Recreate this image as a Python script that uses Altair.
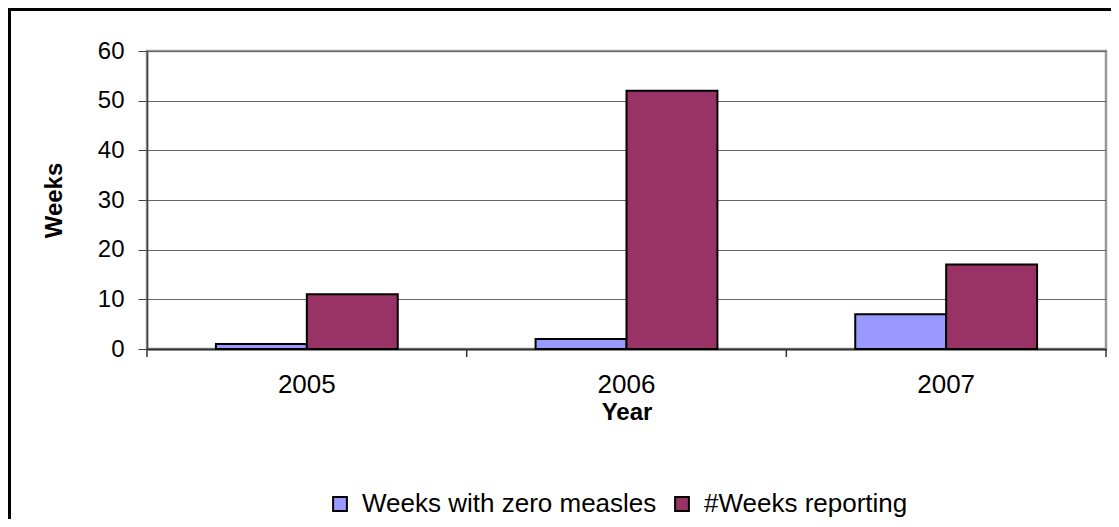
import altair as alt
import pandas as pd

years = ["2005", "2006", "2007"]
series_names = ["Weeks with zero measles", "#Weeks reporting"]
zero_measles = [1, 2, 7]
weeks_reporting = [11, 52, 17]
colors = ["#9999FF", "#993366"]
y_ticks = [0, 10, 20, 30, 40, 50, 60]

rows = []
for i, yr in enumerate(years):
    rows.append({"year": yr, "series": series_names[0], "value": zero_measles[i]})
    rows.append({"year": yr, "series": series_names[1], "value": weeks_reporting[i]})
df = pd.DataFrame(rows)

FONT = "Liberation Sans"
W, H = 959, 298

bars = alt.Chart(df).mark_bar(stroke="black", strokeWidth=2).encode(
    x=alt.X(
        "year:N",
        sort=years,
        scale=alt.Scale(paddingInner=0, paddingOuter=0),
        axis=alt.Axis(
            title="Year",
            labelAngle=0,
            labelFontSize=26,
            labelFont=FONT,
            labelColor="black",
            labelPadding=22,
            ticks=False,
            domainColor="#333",
            domainWidth=2,
            titleFont=FONT,
            titleFontSize=24,
            titleFontWeight="bold",
            titleColor="black",
            titlePadding=3,
            grid=False,
        ),
    ),
    xOffset=alt.XOffset(
        "series:N",
        sort=series_names,
        scale=alt.Scale(paddingInner=0, paddingOuter=0.758),
    ),
    y=alt.Y(
        "value:Q",
        scale=alt.Scale(domain=[0, 60], nice=False),
        axis=alt.Axis(
            title="Weeks",
            values=y_ticks,
            grid=True,
            gridColor="#666",
            gridWidth=1,
            labelFontSize=24,
            labelFont=FONT,
            labelColor="black",
            labelPadding=14,
            tickSize=9,
            tickColor="#444",
            domainColor="#444",
            domainWidth=1.5,
            titleFont=FONT,
            titleFontSize=24,
            titleFontWeight="bold",
            titleColor="black",
            titlePadding=31,
        ),
    ),
    color=alt.Color(
        "series:N",
        sort=series_names,
        scale=alt.Scale(domain=series_names, range=colors),
        legend=alt.Legend(
            title=None,
            orient="none",
            direction="horizontal",
            legendX=180,
            legendY=440,
            symbolType="square",
            symbolSize=190,
            symbolStrokeColor="black",
            symbolStrokeWidth=2,
            symbolOpacity=1,
            labelFont=FONT,
            labelFontSize=26,
            labelColor="black",
            labelOffset=9,
            labelLimit=0,
            columnPadding=12,
            padding=0,
        ),
    ),
)

one = alt.Data(values=[{"a": 1}])

border = alt.Chart(one).mark_rect(fill=None, stroke="black", strokeWidth=3).encode(
    x=alt.value(-137.5),
    y=alt.value(-41.5),
    x2=alt.value(W + 40),
    y2=alt.value(H + 220),
)

tick_layers = []
for k in range(4):
    xpos = round(W * k / 3, 1)
    tick_layers.append(
        alt.Chart(one).mark_rule(color="#333", strokeWidth=1.5).encode(
            x=alt.value(xpos),
            y=alt.value(H),
            y2=alt.value(H + 8),
        )
    )

chart = (
    alt.layer(bars, *tick_layers, border)
    .properties(
        width=W,
        height=H,
        padding={"left": 139, "top": 43, "right": 5, "bottom": 170},
        autosize=alt.AutoSizeParams(type="none"),
        background="white",
    )
    .configure_view(stroke="#999", strokeWidth=2.5)
)

chart.save("out.html", embed_options={"renderer": "svg", "actions": False})
